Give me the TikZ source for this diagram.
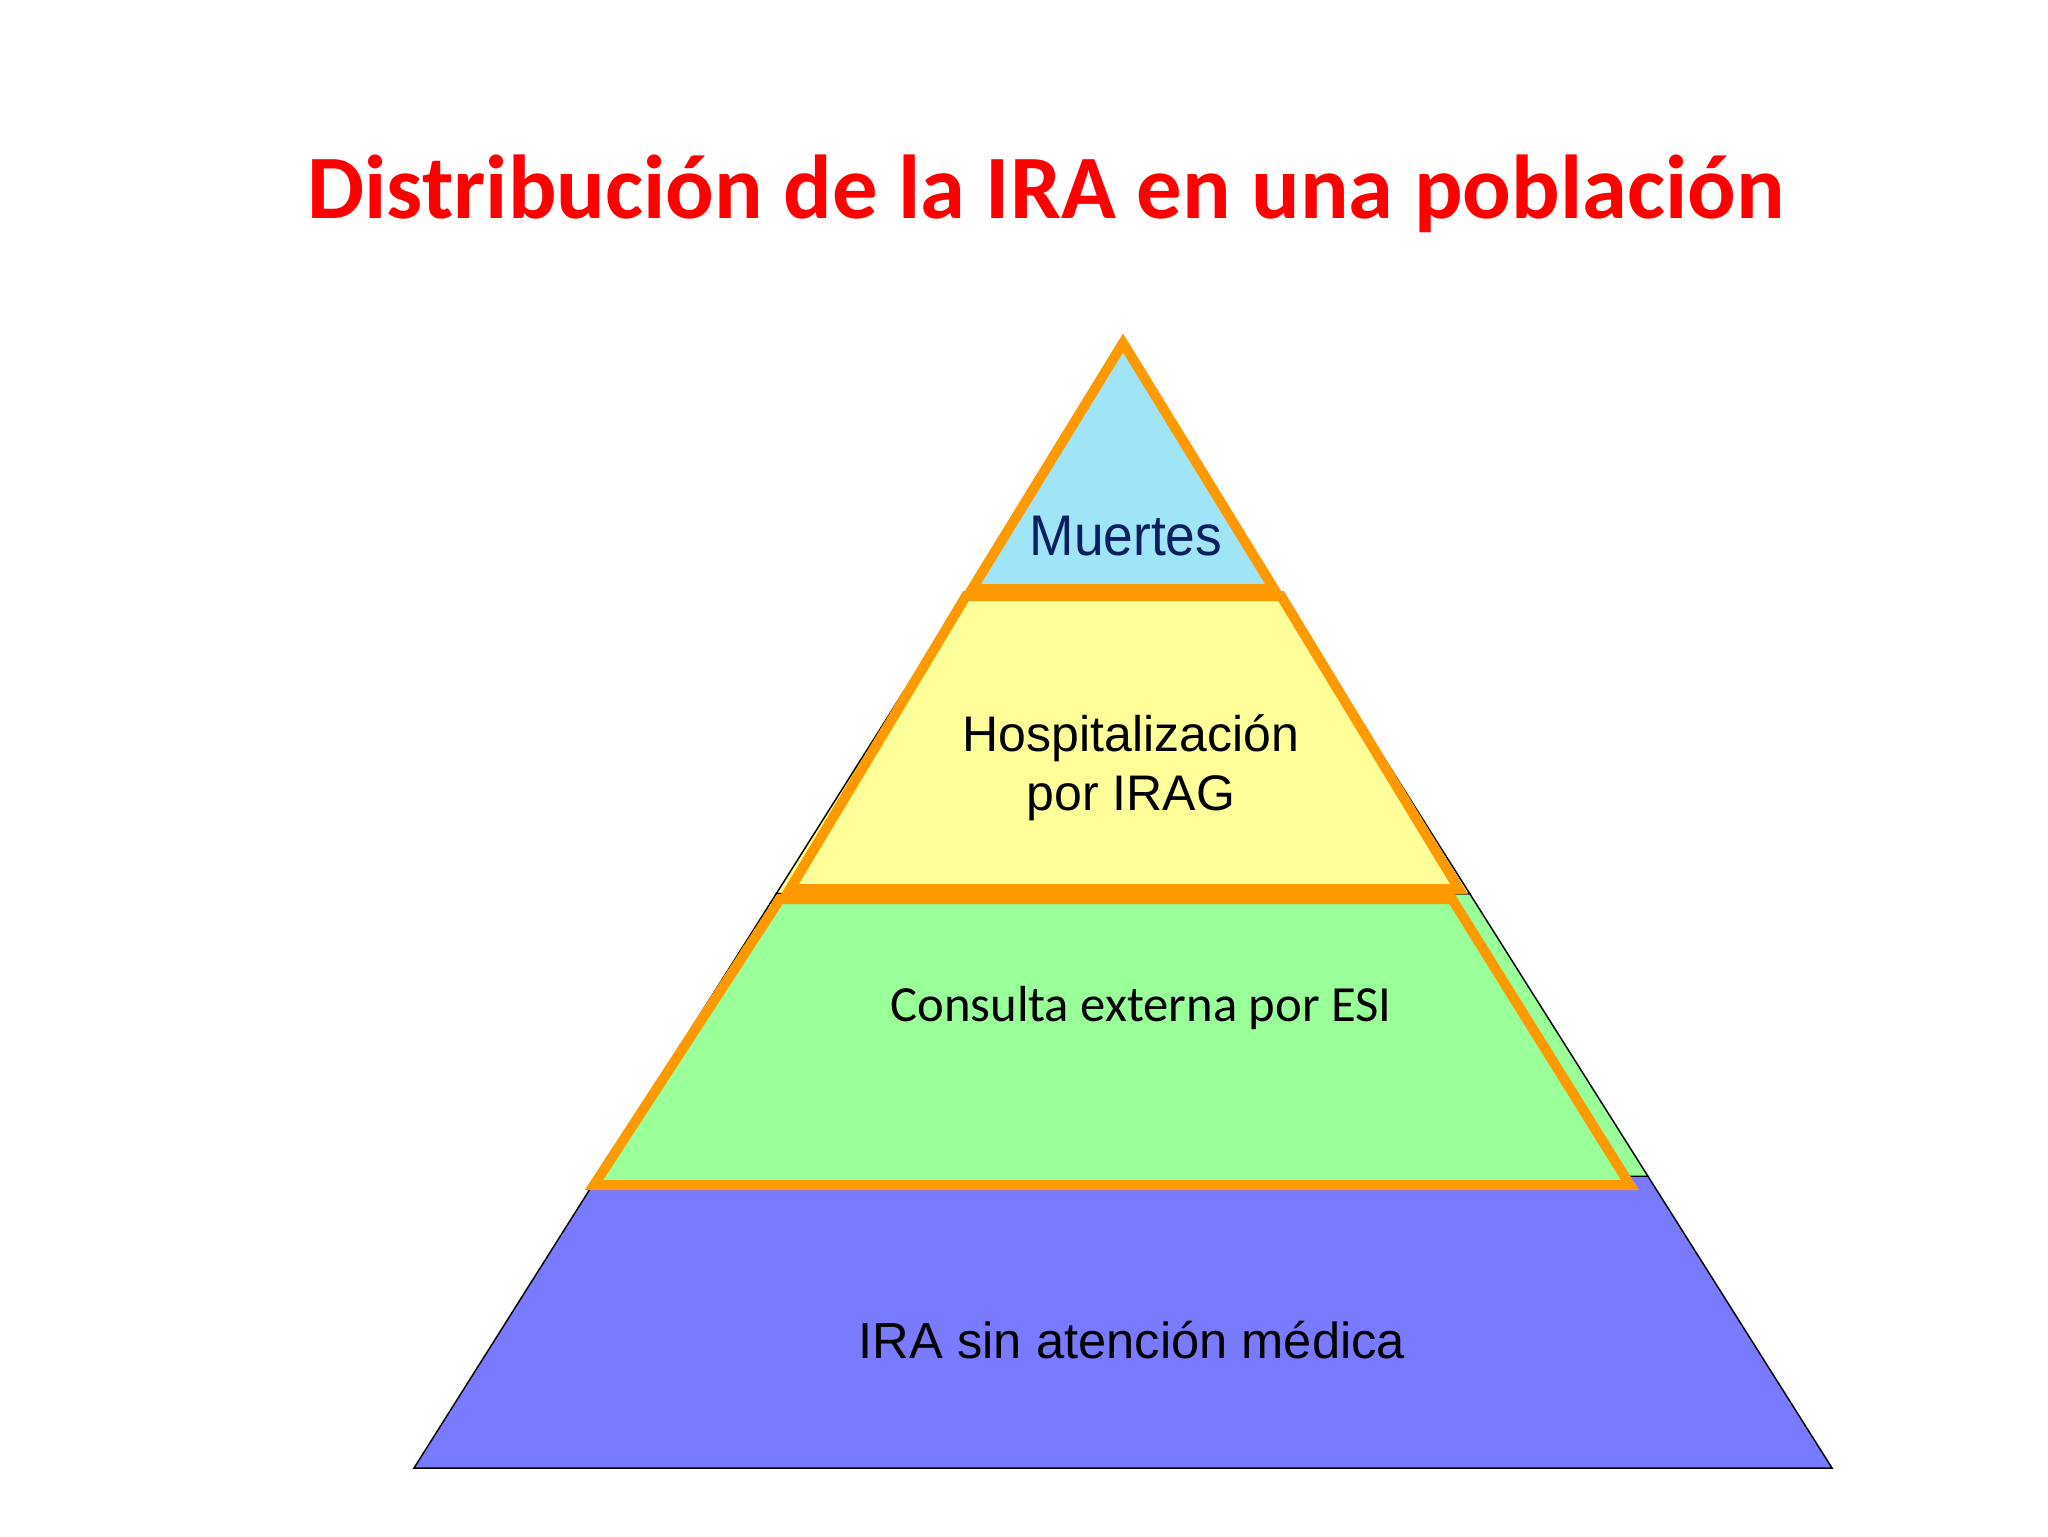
\documentclass[tikz,border=0pt]{standalone}
\usepackage{fontspec}
\setmainfont{Liberation Sans}
\newfontfamily\calibrifont{Carlito}
\usetikzlibrary{calc}

\definecolor{titlered}{RGB}{255,0,0}
\definecolor{edgeorange}{RGB}{255,153,0}
\definecolor{skyfill}{RGB}{160,228,248}
\definecolor{yellowfill}{RGB}{255,255,153}
\definecolor{greenfill}{RGB}{153,255,153}
\definecolor{bluefill}{RGB}{122,122,255}
\definecolor{navytext}{RGB}{12,32,96}

\tikzset{every picture/.style={line width=0.75pt}}
\tikzset{
	band/.style={draw=black, line width=1.1pt, line join=miter},
	tier/.style={draw=edgeorange, line width=7.5pt, line join=miter},
	tiertext/.style={anchor=base, inner sep=0pt, text=black, align=center}}

\begin{document}
\begin{tikzpicture}[x=0.75pt,y=0.75pt,yscale=-1,xscale=1]
	\useasboundingbox [fill=white] (0,0) rectangle (2048,1536);

	% Title
	\node (title) [anchor=base, inner sep=0pt, text=titlered,
		font=\calibrifont\bfseries\fontsize{68pt}{80pt}\selectfont] at (1046,218)
		{Distribución de la IRA en una población};

	% big triangle, cut into bands
	\coordinate (apex) at (1123,344);
	\coordinate (bl) at (414,1468);
	\coordinate (br) at (1832,1468);
	\coordinate (l1) at ($(apex)!0.224!(bl)$);
	\coordinate (r1) at ($(apex)!0.224!(br)$);
	\coordinate (l2) at ($(apex)!0.489!(bl)$);
	\coordinate (r2) at ($(apex)!0.489!(br)$);
	\coordinate (l3) at ($(apex)!0.7404!(bl)$);
	\coordinate (r3) at ($(apex)!0.7404!(br)$);

	%Shape: Trapezoid
	\draw [band, fill=bluefill] (l3) -- (r3) -- (br) -- (bl) -- cycle ;
	%Shape: Trapezoid
	\draw [band, fill=greenfill] (l2) -- (r2) -- (r3) -- (l3) -- cycle ;
	%Shape: Trapezoid
	\draw [band, fill=yellowfill] (l1) -- (r1) -- (r2) -- (l2) -- cycle ;
	%Shape: Triangle
	\draw [band, fill=skyfill] (apex) -- (r1) -- (l1) -- cycle ;

	%Shape: Trapezoid
	\draw [tier, fill=greenfill] (780,899) -- (1452,899) -- (1630,1185) -- (594,1185) -- cycle ;
	%Shape: Trapezoid
	\draw [tier, fill=yellowfill] (966,596) -- (1281,596) -- (1459,889) -- (790,889) -- cycle ;
	%Shape: Triangle
	\draw [tier, fill=skyfill] (1123,343) -- (1274,589) -- (972,589) -- cycle ;

	% Text Node
	\node (muertes) [tiertext, text=navytext, xscale=0.93,
		font=\fontsize{43pt}{50pt}\selectfont] at (1126,555) {Muertes};
	% Text Node
	\node (hosp) [tiertext, anchor=center,
		font=\fontsize{37.5pt}{44pt}\selectfont] at (1131,768) {Hospitalización\\por IRAG};
	% Text Node
	\node (consulta) [tiertext,
		font=\calibrifont\fontsize{38pt}{46pt}\selectfont] at (1141,1021) {Consulta externa por ESI};
	% Text Node
	\node (sinatencion) [tiertext,
		font=\fontsize{38pt}{46pt}\selectfont] at (1132,1358) {IRA sin atención médica};

\end{tikzpicture}
\end{document}
